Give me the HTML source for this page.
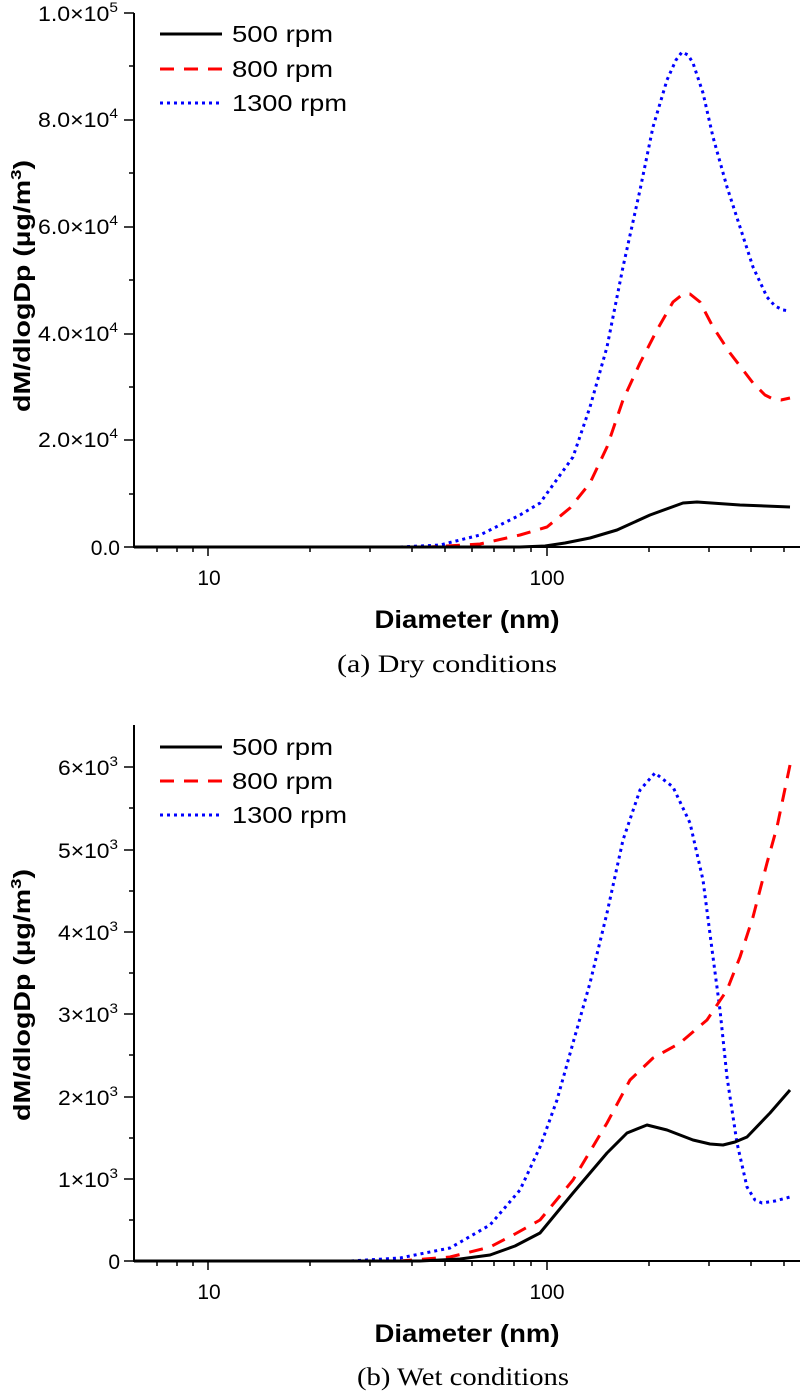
<!DOCTYPE html>
<html><head><meta charset="utf-8"><style>
html,body{margin:0;padding:0;background:#fff;}
svg{display:block;}
text{font-family:"Liberation Sans",Arial,sans-serif;}
.s{font-family:"Liberation Serif","Times New Roman",serif;}
</style></head><body>
<svg width="800" height="1394" viewBox="0 0 800 1394" xmlns="http://www.w3.org/2000/svg">
<g stroke="#000" stroke-width="2" fill="none">
<line x1="134" y1="13" x2="134" y2="548"/>
<line x1="133" y1="547" x2="800" y2="547"/>
<line x1="134" y1="725" x2="134" y2="1262"/>
<line x1="133" y1="1261" x2="800" y2="1261"/>
</g>
<g stroke="#000" stroke-width="1.5">
<line x1="124" y1="13" x2="134" y2="13"/><line x1="129" y1="66" x2="134" y2="66"/>
<line x1="124" y1="120" x2="134" y2="120"/><line x1="129" y1="173" x2="134" y2="173"/>
<line x1="124" y1="227" x2="134" y2="227"/><line x1="129" y1="280" x2="134" y2="280"/>
<line x1="124" y1="334" x2="134" y2="334"/><line x1="129" y1="387" x2="134" y2="387"/>
<line x1="124" y1="440" x2="134" y2="440"/><line x1="129" y1="494" x2="134" y2="494"/>
<line x1="124" y1="547" x2="134" y2="547"/>
<line x1="124" y1="767" x2="134" y2="767"/><line x1="129" y1="808" x2="134" y2="808"/>
<line x1="124" y1="850" x2="134" y2="850"/><line x1="129" y1="891" x2="134" y2="891"/>
<line x1="124" y1="932" x2="134" y2="932"/><line x1="129" y1="973" x2="134" y2="973"/>
<line x1="124" y1="1014" x2="134" y2="1014"/><line x1="129" y1="1055" x2="134" y2="1055"/>
<line x1="124" y1="1097" x2="134" y2="1097"/><line x1="129" y1="1138" x2="134" y2="1138"/>
<line x1="124" y1="1179" x2="134" y2="1179"/><line x1="129" y1="1220" x2="134" y2="1220"/>
<line x1="124" y1="1261" x2="134" y2="1261"/>
</g>
<g id="xt" stroke="#000" stroke-width="1.5">
<line x1="208" y1="547" x2="208" y2="556"/><line x1="547" y1="547" x2="547" y2="556"/>
<line x1="157" y1="547" x2="157" y2="552"/><line x1="177" y1="547" x2="177" y2="552"/><line x1="193" y1="547" x2="193" y2="552"/>
<line x1="310" y1="547" x2="310" y2="552"/><line x1="370" y1="547" x2="370" y2="552"/><line x1="412" y1="547" x2="412" y2="552"/>
<line x1="445" y1="547" x2="445" y2="552"/><line x1="472" y1="547" x2="472" y2="552"/><line x1="494" y1="547" x2="494" y2="552"/>
<line x1="514" y1="547" x2="514" y2="552"/><line x1="531" y1="547" x2="531" y2="552"/>
<line x1="649" y1="547" x2="649" y2="552"/><line x1="709" y1="547" x2="709" y2="552"/><line x1="751" y1="547" x2="751" y2="552"/><line x1="784" y1="547" x2="784" y2="552"/>
</g>
<use href="#xt" transform="translate(0,714)"/>
<g font-size="21" text-anchor="end" fill="#000">
<text x="118" y="21" textLength="80" lengthAdjust="spacingAndGlyphs">1.0×10<tspan dy="-9" font-size="14">5</tspan></text>
<text x="118" y="127" textLength="80" lengthAdjust="spacingAndGlyphs">8.0×10<tspan dy="-9" font-size="14">4</tspan></text>
<text x="118" y="234" textLength="80" lengthAdjust="spacingAndGlyphs">6.0×10<tspan dy="-9" font-size="14">4</tspan></text>
<text x="118" y="341" textLength="80" lengthAdjust="spacingAndGlyphs">4.0×10<tspan dy="-9" font-size="14">4</tspan></text>
<text x="118" y="447" textLength="80" lengthAdjust="spacingAndGlyphs">2.0×10<tspan dy="-9" font-size="14">4</tspan></text>
<text x="120" y="555">0.0</text>
<text x="118" y="775" textLength="60" lengthAdjust="spacingAndGlyphs">6×10<tspan dy="-9" font-size="14">3</tspan></text>
<text x="118" y="858" textLength="60" lengthAdjust="spacingAndGlyphs">5×10<tspan dy="-9" font-size="14">3</tspan></text>
<text x="118" y="940" textLength="60" lengthAdjust="spacingAndGlyphs">4×10<tspan dy="-9" font-size="14">3</tspan></text>
<text x="118" y="1022" textLength="60" lengthAdjust="spacingAndGlyphs">3×10<tspan dy="-9" font-size="14">3</tspan></text>
<text x="118" y="1105" textLength="60" lengthAdjust="spacingAndGlyphs">2×10<tspan dy="-9" font-size="14">3</tspan></text>
<text x="118" y="1187" textLength="60" lengthAdjust="spacingAndGlyphs">1×10<tspan dy="-9" font-size="14">3</tspan></text>
<text x="120" y="1269">0</text>
</g>
<g font-size="21" text-anchor="middle">
<text x="209" y="585">10</text><text x="547" y="585">100</text>
<text x="209" y="1299">10</text><text x="547" y="1299">100</text>
</g>
<g font-size="25" font-weight="bold" text-anchor="middle">
<text x="467" y="628" textLength="185" lengthAdjust="spacingAndGlyphs">Diameter (nm)</text>
<text x="467" y="1342" textLength="185" lengthAdjust="spacingAndGlyphs">Diameter (nm)</text>
<text transform="translate(30,286) rotate(-90)" font-size="23" textLength="252" lengthAdjust="spacingAndGlyphs">dM/dlogDp (µg/m<tspan dy="-9" font-size="15">3</tspan><tspan dy="9">)</tspan></text>
<text transform="translate(30,995) rotate(-90)" font-size="23" textLength="252" lengthAdjust="spacingAndGlyphs">dM/dlogDp (µg/m<tspan dy="-9" font-size="15">3</tspan><tspan dy="9">)</tspan></text>
</g>
<g font-size="25" text-anchor="middle">
<text class="s" x="447" y="672" textLength="220" lengthAdjust="spacingAndGlyphs">(a) Dry conditions</text>
<text class="s" x="463" y="1385" textLength="212" lengthAdjust="spacingAndGlyphs">(b) Wet conditions</text>
</g>
<g font-size="23">
<line x1="160" y1="34" x2="222" y2="34" stroke="#000" stroke-width="3"/>
<line x1="160" y1="69" x2="222" y2="69" stroke="#f00" stroke-width="3" stroke-dasharray="14,10"/>
<line x1="160" y1="103" x2="222" y2="103" stroke="#00f" stroke-width="3" stroke-dasharray="3,4"/>
<text x="232" y="42" textLength="101" lengthAdjust="spacingAndGlyphs">500 rpm</text>
<text x="232" y="77" textLength="101" lengthAdjust="spacingAndGlyphs">800 rpm</text>
<text x="232" y="111" textLength="115" lengthAdjust="spacingAndGlyphs">1300 rpm</text>
<line x1="160" y1="747" x2="222" y2="747" stroke="#000" stroke-width="3"/>
<line x1="160" y1="781" x2="222" y2="781" stroke="#f00" stroke-width="3" stroke-dasharray="14,10"/>
<line x1="160" y1="815" x2="222" y2="815" stroke="#00f" stroke-width="3" stroke-dasharray="3,4"/>
<text x="232" y="755" textLength="101" lengthAdjust="spacingAndGlyphs">500 rpm</text>
<text x="232" y="789" textLength="101" lengthAdjust="spacingAndGlyphs">800 rpm</text>
<text x="232" y="823" textLength="115" lengthAdjust="spacingAndGlyphs">1300 rpm</text>
</g>
<g fill="none" stroke-width="3" stroke-linejoin="round">
<polyline stroke="#00f" stroke-dasharray="3,4" points="134,547 400,547 440,545 480,535 520,515 540,503 573,457 590,407 607,347 623,267 640,190 653,127 667,80 676,60 682,52 688,55 693,63 703,93 713,137 727,187 740,227 753,267 767,297 775,306 783,310 790,311"/>
<polyline stroke="#f00" stroke-dasharray="14,10" points="134,547 430,547 480,544 520,535 547,527 570,508 590,483 607,447 623,400 640,363 657,330 673,302 683,294 690,294 700,302 713,327 730,353 753,383 765,395 773,399 781,400 790,398"/>
<polyline stroke="#000" points="134,547 520,547 545,546 565,543 590,538 617,530 650,515 683,503 697,502 740,505 790,507"/>
<polyline stroke="#00f" stroke-dasharray="3,4" points="134,1261 350,1261 400,1258 450,1248 490,1225 520,1190 540,1147 557,1100 573,1043 590,983 607,913 623,840 640,790 655,773 673,787 690,823 703,880 713,957 720,1010 727,1077 737,1143 747,1187 755,1200 762,1203 775,1201 790,1197"/>
<polyline stroke="#f00" stroke-dasharray="14,10" points="134,1261 400,1261 450,1257 490,1247 515,1234 540,1220 573,1180 607,1123 630,1080 653,1058 680,1043 707,1020 727,990 740,957 753,917 767,863 777,827 790,765"/>
<polyline stroke="#000" points="134,1261 420,1261 460,1259 490,1255 515,1246 540,1233 573,1193 607,1153 627,1133 647,1125 667,1130 693,1140 710,1144 723,1145 735,1142 747,1137 770,1113 790,1090"/>
</g>
</svg>
</body></html>
